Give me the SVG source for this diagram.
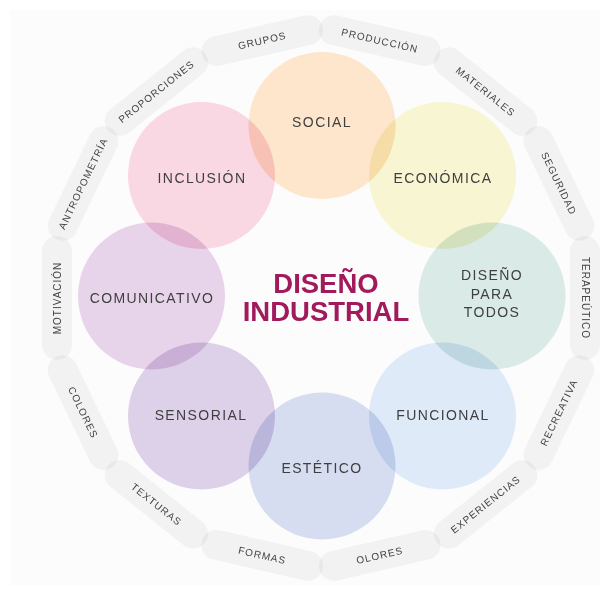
<svg xmlns="http://www.w3.org/2000/svg" width="600" height="610" viewBox="0 0 600 610">
<style>
.cap{fill:#000;fill-opacity:0.04}
.ct{font-family:"Liberation Sans",Arial,sans-serif;font-size:10px;letter-spacing:1px;fill:#444;text-anchor:middle}
.cl{font-family:"Liberation Sans",Arial,sans-serif;font-size:14px;letter-spacing:1.4px;fill:#3f3f3f;text-anchor:middle}
.circ{mix-blend-mode:multiply}
.title{font-family:"Liberation Sans",Arial,sans-serif;font-size:27.5px;font-weight:bold;fill:#a11a5b;text-anchor:middle}
</style>
<rect x="0" y="0" width="600" height="610" fill="#ffffff"/>
<rect x="10" y="10" width="590" height="575" fill="#fcfcfc"/>
<g id="ring">
<g id="n-terapeutico" transform="translate(585,298)"><rect class="cap" x="-62" y="-15" width="124" height="30" rx="15" transform="rotate(90)"/><text class="ct" y="3.5" transform="rotate(90)">TERAPEÚTICO</text></g>
<g id="n-recreativa" transform="translate(558.86,412.54)"><rect class="cap" x="-62" y="-15" width="124" height="30" rx="15" transform="rotate(115.714)"/><text class="ct" y="3.5" transform="rotate(-64.286)">RECREATIVA</text></g>
<g id="n-experiencias" transform="translate(485.6,504.4)"><rect class="cap" x="-62" y="-15" width="124" height="30" rx="15" transform="rotate(141.429)"/><text class="ct" y="3.5" transform="rotate(-38.571)">EXPERIENCIAS</text></g>
<g id="n-olores" transform="translate(379.75,555.38)"><rect class="cap" x="-62" y="-15" width="124" height="30" rx="15" transform="rotate(167.143)"/><text class="ct" y="3.5" transform="rotate(-12.857)">OLORES</text></g>
<g id="n-formas" transform="translate(262.25,555.38)"><rect class="cap" x="-62" y="-15" width="124" height="30" rx="15" transform="rotate(192.857)"/><text class="ct" y="3.5" transform="rotate(12.857)">FORMAS</text></g>
<g id="n-texturas" transform="translate(156.4,504.4)"><rect class="cap" x="-62" y="-15" width="124" height="30" rx="15" transform="rotate(218.571)"/><text class="ct" y="3.5" transform="rotate(38.571)">TEXTURAS</text></g>
<g id="n-colores" transform="translate(83.14,412.54)"><rect class="cap" x="-62" y="-15" width="124" height="30" rx="15" transform="rotate(244.286)"/><text class="ct" y="3.5" transform="rotate(64.286)">COLORES</text></g>
<g id="n-motivacion" transform="translate(57,298)"><rect class="cap" x="-62" y="-15" width="124" height="30" rx="15" transform="rotate(270)"/><text class="ct" y="3.5" transform="rotate(270)">MOTIVACIÓN</text></g>
<g id="n-antropometria" transform="translate(83.14,183.46)"><rect class="cap" x="-62" y="-15" width="124" height="30" rx="15" transform="rotate(295.714)"/><text class="ct" y="3.5" transform="rotate(295.714)">ANTROPOMETRÍA</text></g>
<g id="n-proporciones" transform="translate(156.4,91.6)"><rect class="cap" x="-62" y="-15" width="124" height="30" rx="15" transform="rotate(321.429)"/><text class="ct" y="3.5" transform="rotate(321.429)">PROPORCIONES</text></g>
<g id="n-grupos" transform="translate(262.25,40.62)"><rect class="cap" x="-62" y="-15" width="124" height="30" rx="15" transform="rotate(347.143)"/><text class="ct" y="3.5" transform="rotate(347.143)">GRUPOS</text></g>
<g id="n-produccion" transform="translate(379.75,40.62)"><rect class="cap" x="-62" y="-15" width="124" height="30" rx="15" transform="rotate(12.857)"/><text class="ct" y="3.5" transform="rotate(12.857)">PRODUCCIÓN</text></g>
<g id="n-materiales" transform="translate(485.6,91.6)"><rect class="cap" x="-62" y="-15" width="124" height="30" rx="15" transform="rotate(38.571)"/><text class="ct" y="3.5" transform="rotate(38.571)">MATERIALES</text></g>
<g id="n-seguridad" transform="translate(558.86,183.46)"><rect class="cap" x="-62" y="-15" width="124" height="30" rx="15" transform="rotate(64.286)"/><text class="ct" y="3.5" transform="rotate(64.286)">SEGURIDAD</text></g>
</g>
<g id="circles" style="isolation:isolate">
<circle class="circ" cx="322" cy="125.5" r="73.5" fill="#fde6cc"/>
<circle class="circ" cx="442.5" cy="175.5" r="73.5" fill="#f8f5d2"/>
<circle class="circ" cx="492" cy="296" r="73.5" fill="#d9eae7"/>
<circle class="circ" cx="442.5" cy="416" r="73.5" fill="#deeaf8"/>
<circle class="circ" cx="322" cy="466" r="73.5" fill="#d7ddf0"/>
<circle class="circ" cx="201.5" cy="416" r="73.5" fill="#ddd1e9"/>
<circle class="circ" cx="151.5" cy="296" r="73.5" fill="#e8d4ea"/>
<circle class="circ" cx="201.5" cy="175.5" r="73.5" fill="#f9d7e3"/>
</g>
<g id="n-social"><text class="cl" x="322" y="127">SOCIAL</text></g>
<g id="n-economica"><text class="cl" x="443" y="183">ECONÓMICA</text></g>
<g id="n-disenoparatodos"><text class="cl" x="492" y="280">DISEÑO</text><text class="cl" x="492" y="298.5">PARA</text><text class="cl" x="492" y="317">TODOS</text></g>
<g id="n-funcional"><text class="cl" x="443" y="420">FUNCIONAL</text></g>
<g id="n-estetico"><text class="cl" x="322" y="473">ESTÉTICO</text></g>
<g id="n-sensorial"><text class="cl" x="201" y="420">SENSORIAL</text></g>
<g id="n-comunicativo"><text class="cl" x="152" y="303">COMUNICATIVO</text></g>
<g id="n-inclusion"><text class="cl" x="202" y="183">INCLUSIÓN</text></g>
<g id="n-center"><text class="title" x="326" y="293">DISEÑO</text><text class="title" x="326" y="321">INDUSTRIAL</text></g>
</svg>
